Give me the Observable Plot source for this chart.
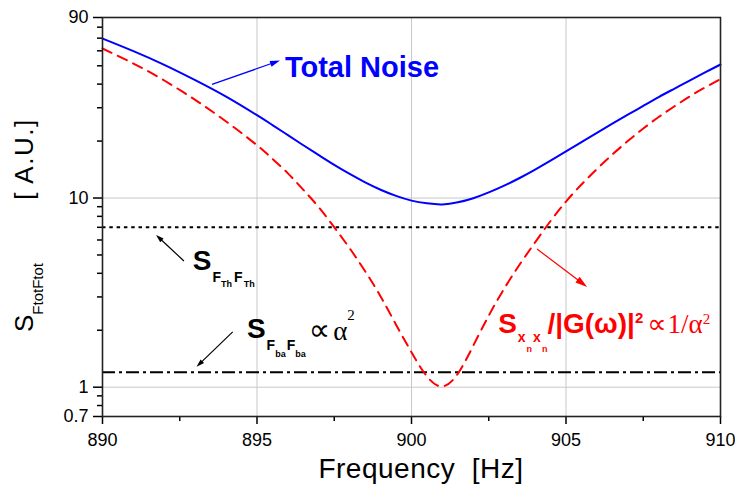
<!DOCTYPE html>
<html><head><meta charset="utf-8">
<script src="https://cdn.jsdelivr.net/npm/d3@7"></script>
<script src="https://cdn.jsdelivr.net/npm/@observablehq/plot@0.6"></script>
<style>body{margin:0;background:#fff;}</style>
</head><body><div id="chart"></div>
<script>
// ---- data ----
const freq = [890, 891, 892, 893, 894, 895, 895.5, 896, 896.5, 897, 897.5, 898, 898.5, 899, 899.5, 900, 900.5, 901, 901.5, 902, 902.5, 903, 903.5, 904, 904.5, 905, 905.5, 906, 906.5, 907, 907.5, 908, 908.5, 909, 909.5, 910];
const imprecision = [61.7, 51.4, 41.8, 33.0, 25.4, 19.0, 16.1, 13.5, 11.05, 8.93, 7.0, 5.42, 4.10, 3.02, 2.14, 1.53, 1.14, 1.01, 1.18, 1.66, 2.39, 3.32, 4.45, 5.83, 7.56, 9.58, 11.79, 14.23, 16.98, 20.0, 23.3, 26.8, 30.45, 34.4, 38.4, 42.6];
const totalNoise = [69.7, 59.8, 50.6, 42.0, 34.35, 27.4, 24.3, 21.5, 19.0, 16.85, 14.97, 13.4, 12.1, 11.06, 10.26, 9.69, 9.37, 9.25, 9.49, 9.98, 10.71, 11.63, 12.76, 14.14, 15.76, 17.62, 19.73, 22.09, 24.71, 27.57, 30.7, 34.16, 37.8, 41.8, 46.1, 50.8];
const thermalLevel = 7.0;
const backactionLevel = 1.2;
const xTicks = [890, 895, 900, 905, 910];
const xMinorTicks = [892.5, 897.5, 902.5, 907.5];
const yTicks = [0.7, 1, 10, 90];
const yMinorTicks = [0.8, 0.9, 2, 3, 4, 5, 6, 7, 8, 9, 20, 30, 40, 50, 60, 70, 80];
const xGrid = [895, 900, 905];
const yGrid = [1, 10];
// annotation anchors (data units)
const totalLabelAt = [895.92, 43.3];
const totalArrow = [893.56, 39.6, 895.76, 53.0];
const thermalLabelAt = [892.94, 4.14];
const thermalArrow = [892.65, 4.62, 891.75, 6.34];
const backLabelAt = [894.69, 1.81];
const backArrow = [894.23, 1.95, 893.06, 1.275];
const impLabelAt = [902.82, 1.92];
const impArrow = [904.08, 5.34, 905.70, 3.37];

const W = 735, H = 491, mL = 102, mR = 15, mT = 17, mB = 75;
const rows = freq.map((f, i) => ({f, red: imprecision[i], blue: totalNoise[i]}));
const SANS = "Arial, 'Liberation Sans', Helvetica, sans-serif";
const SERIF = "'Times New Roman', 'Liberation Serif', 'DejaVu Serif', serif";
const SYM = "'DejaVu Sans', sans-serif";
const x0 = xTicks[0], y0 = yTicks[0];

const plot = Plot.plot({
  width: W, height: H, marginLeft: mL, marginRight: mR, marginTop: mT, marginBottom: mB,
  x: {domain: [890, 910], label: null, axis: null},
  y: {type: "log", domain: [0.7, 90], label: null, axis: null},
  style: {fontFamily: SANS, fontSize: "18px", color: "#000", background: "#fff", overflow: "visible"},
  marks: [
    Plot.ruleX(xGrid, {stroke: "#c8c8c8", strokeWidth: 1}),
    Plot.ruleY(yGrid, {stroke: "#c8c8c8", strokeWidth: 1}),
    Plot.ruleY([thermalLevel], {stroke: "#000", strokeWidth: 2, strokeDasharray: "3.5,3.8"}),
    Plot.ruleY([backactionLevel], {stroke: "#000", strokeWidth: 2, strokeDasharray: "13,4,3,4"}),
    Plot.line(rows, {x: "f", y: "red", stroke: "#ff0000", strokeWidth: 2, strokeDasharray: "10,7", curve: "natural"}),
    Plot.line(rows, {x: "f", y: "blue", stroke: "#0000ff", strokeWidth: 2, curve: "natural"}),
    // axis ticks and labels
    Plot.ruleX(xTicks, {x: d => d, y1: y0, y2: y0, insetBottom: -8, stroke: "#000", strokeWidth: 1.5}),
    Plot.ruleX(xMinorTicks, {x: d => d, y1: y0, y2: y0, insetBottom: -5, stroke: "#000", strokeWidth: 1.5}),
    Plot.text(xTicks, {x: d => d, y: y0, dy: 24, text: d => String(d), fill: "#000", fontSize: 18}),
    Plot.ruleY(yTicks, {y: d => d, x1: x0, x2: x0, insetLeft: -9, stroke: "#000", strokeWidth: 1.5}),
    Plot.ruleY(yMinorTicks, {y: d => d, x1: x0, x2: x0, insetLeft: -5, stroke: "#000", strokeWidth: 1.5}),
    Plot.text(yTicks, {x: x0, y: d => d, dx: -14, textAnchor: "end", text: d => String(d), fill: "#000", fontSize: 18}),
    Plot.frame({stroke: "#222", strokeWidth: 1.6})
  ]
});
document.getElementById("chart").appendChild(plot);

// ---- annotations drawn through the plot's scales ----
const sxo = plot.scale("x"), syo = plot.scale("y");
const fx = sxo && sxo.apply ? v => sxo.apply(v) : d3.scaleLinear().domain([890, 910]).range([mL, W - mR]);
const fy = syo && syo.apply ? v => syo.apply(v) : d3.scaleLog().domain([0.7, 90]).range([H - mB, mT]);
const svg = d3.select(plot);

function arrow(a, color, width, hl, hw) {
  const x1 = fx(a[0]), y1 = fy(a[1]), x2 = fx(a[2]), y2 = fy(a[3]);
  const dx = x2 - x1, dy = y2 - y1, L = Math.hypot(dx, dy), ux = dx / L, uy = dy / L;
  const bx = x2 - ux * hl, by = y2 - uy * hl;
  svg.append("line").attr("x1", x1).attr("y1", y1).attr("x2", bx + ux).attr("y2", by + uy)
    .attr("stroke", color).attr("stroke-width", width);
  svg.append("polygon").attr("points", [[x2, y2], [bx - uy * hw / 2, by + ux * hw / 2], [bx + uy * hw / 2, by - ux * hw / 2]].map(p => p.join(",")).join(" "))
    .attr("fill", color);
}
function rich(x, y, parts, color, extra) {
  const t = svg.append("text").attr("x", x).attr("y", y).attr("fill", color).attr("text-anchor", "start");
  if (extra) extra(t);
  for (const p of parts) {
    const s = t.append("tspan").text(p.t).attr("font-size", p.size).attr("font-family", p.family || SANS)
      .attr("font-weight", p.bold ? "bold" : "normal");
    if (p.dy) s.attr("dy", p.dy);
    if (p.dx) s.attr("dx", p.dx);
  }
  return t;
}

arrow(totalArrow, "#0000ff", 1.3, 10, 6);
rich(fx(totalLabelAt[0]), fy(totalLabelAt[1]), [{t: "Total Noise", size: 29, bold: true}], "#0000ff");

arrow(thermalArrow, "#000", 1.2, 8, 5);
rich(fx(thermalLabelAt[0]), fy(thermalLabelAt[1]), [
  {t: "S", size: 28, bold: true},
  {t: "F", size: 14, bold: true, dy: 12, dx: 1},
  {t: "Th", size: 9, bold: true, dy: 5},
  {t: "F", size: 14, bold: true, dy: -5, dx: 2},
  {t: "Th", size: 9, bold: true, dy: 5, dx: 1}
], "#000");

arrow(backArrow, "#000", 1.2, 8, 5);
rich(fx(backLabelAt[0]), fy(backLabelAt[1]), [
  {t: "S", size: 28, bold: true},
  {t: "F", size: 14, bold: true, dy: 12, dx: 1},
  {t: "ba", size: 9, bold: true, dy: 7},
  {t: "F", size: 14, bold: true, dy: -7, dx: 1},
  {t: "ba", size: 9, bold: true, dy: 7},
  {t: "\u221D", size: 30, family: SYM, dy: -17, dx: 3},
  {t: "\u03B1", size: 27, family: SERIF, dx: 3},
  {t: "2", size: 15, family: SERIF, dy: -20}
], "#000");

arrow(impArrow, "#ff0000", 1.2, 12, 7);
rich(fx(impLabelAt[0]), fy(impLabelAt[1]), [
  {t: "S", size: 28, bold: true},
  {t: "x", size: 14, bold: true, dy: 9, dx: 1},
  {t: "n", size: 9, bold: true, dy: 10, dx: 1},
  {t: "x", size: 14, bold: true, dy: -10, dx: 1},
  {t: "n", size: 9, bold: true, dy: 10, dx: 1},
  {t: "/|G(\u03C9)|", size: 28, bold: true, dy: -19},
  {t: "2", size: 15, bold: true, dy: -10},
  {t: "\u221D", size: 27, family: SYM, dy: 10, dx: 4},
  {t: "1/\u03B1", size: 27, family: SERIF, dx: 1},
  {t: "2", size: 15, family: SERIF, dy: -9}
], "#ff0000");

// axis titles
svg.append("text").attr("x", 421).attr("y", 478).attr("text-anchor", "middle")
  .attr("font-family", SANS).attr("font-size", 28).attr("letter-spacing", 0.5).attr("fill", "#000")
  .attr("xml:space", "preserve").text("Frequency  [Hz]");
rich(0, 0, [
  {t: "S", size: 26},
  {t: "FtotFtot", size: 15, dy: 10}
], "#000", t => t.attr("transform", "translate(33,332) rotate(-90)"));
svg.append("text").attr("transform", "translate(33,159) rotate(-90)").attr("text-anchor", "middle")
  .attr("font-family", SANS).attr("font-size", 26).attr("letter-spacing", 1.5).attr("fill", "#000")
  .attr("xml:space", "preserve").text("[ A.U.]");
</script>
</body></html>
